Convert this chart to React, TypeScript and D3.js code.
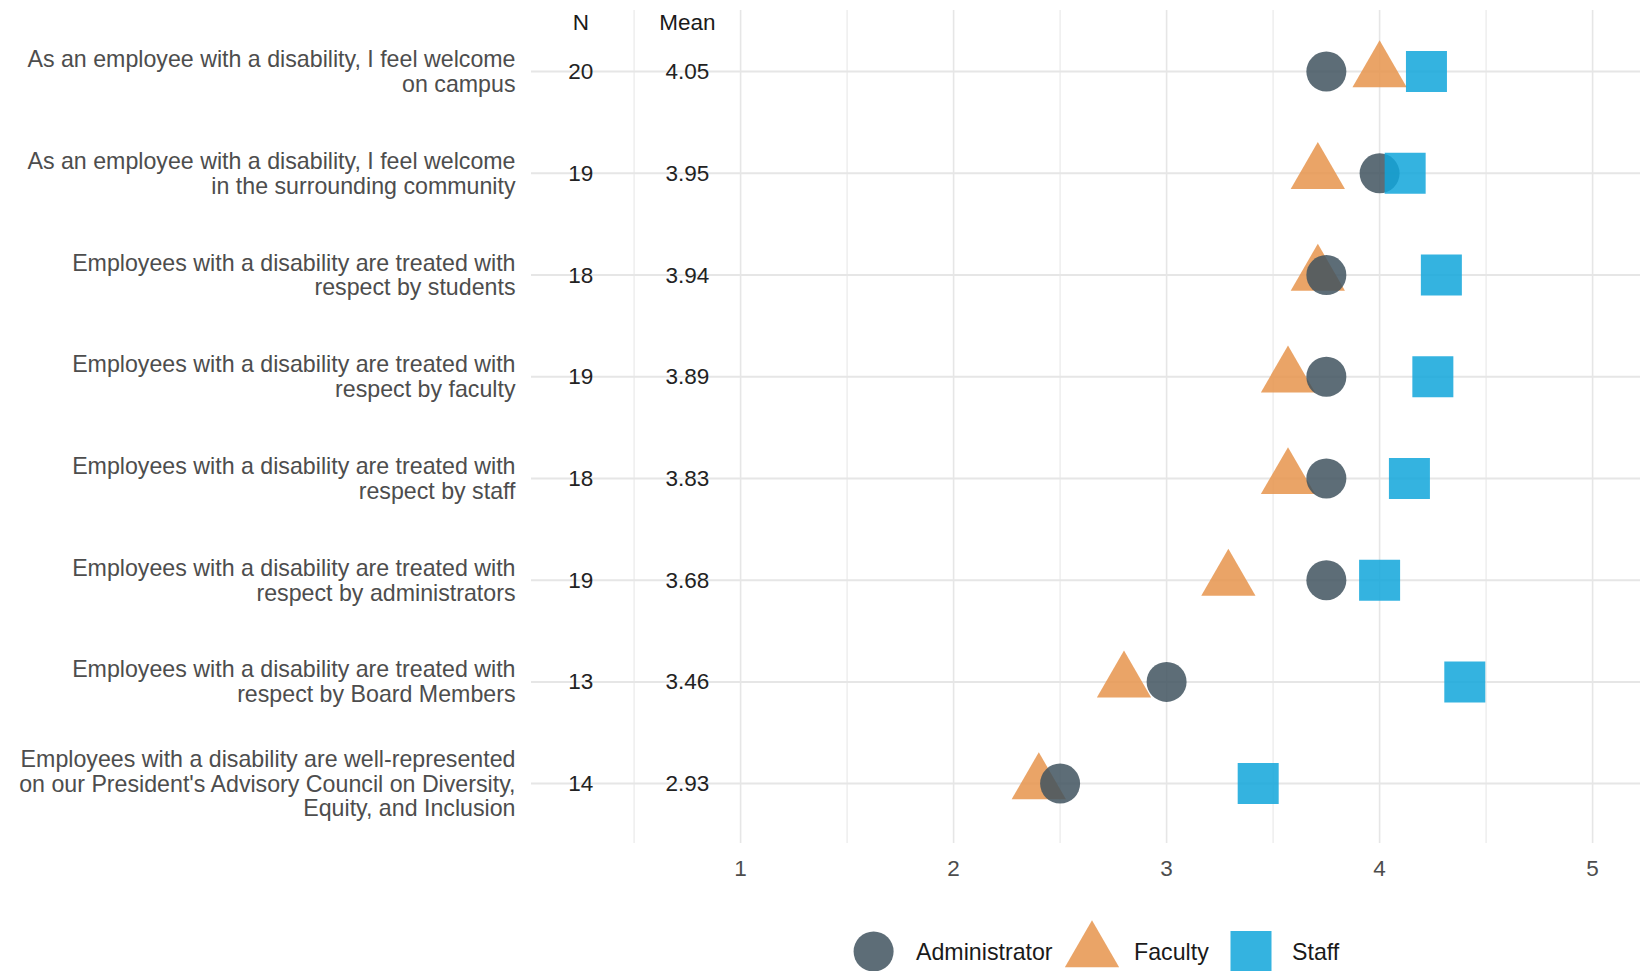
import React from "react";
import * as d3 from "d3";

const categories: string[][] = [
  ["As an employee with a disability, I feel welcome", "on campus"],
  ["As an employee with a disability, I feel welcome", "in the surrounding community"],
  ["Employees with a disability are treated with", "respect by students"],
  ["Employees with a disability are treated with", "respect by faculty"],
  ["Employees with a disability are treated with", "respect by staff"],
  ["Employees with a disability are treated with", "respect by administrators"],
  ["Employees with a disability are treated with", "respect by Board Members"],
  ["Employees with a disability are well-represented", "on our President's Advisory Council on Diversity,", "Equity, and Inclusion"],
];
const nValues = [20, 19, 18, 19, 18, 19, 13, 14];
const meanValues = ["4.05", "3.95", "3.94", "3.89", "3.83", "3.68", "3.46", "2.93"];
const adminValues = [3.75, 4.0, 3.75, 3.75, 3.75, 3.75, 3.0, 2.5];
const facultyValues = [4.0, 3.71, 3.71, 3.57, 3.57, 3.29, 2.8, 2.4];
const staffValues = [4.22, 4.12, 4.29, 4.25, 4.14, 4.0, 4.4, 3.43];
const xTicks = [1, 2, 3, 4, 5];
const minorTicks = [0.5, 1.5, 2.5, 3.5, 4.5];
const groups = ["Administrator", "Faculty", "Staff"];

const W = 1640;
const H = 971;
const FONT = "'Liberation Sans', Arial, sans-serif";

const colors: Record<string, string> = {
  Administrator: "#41545f",
  Faculty: "#e6944c",
  Staff: "#11a6da",
};
const symbolFor: Record<string, d3.SymbolType> = {
  Administrator: d3.symbolCircle,
  Faculty: d3.symbolTriangle,
  Staff: d3.symbolSquare,
};
const sizeFor: Record<string, number> = {
  Administrator: Math.PI * 20 * 20,
  Faculty: 1275,
  Staff: 41 * 41,
};
const pathFor = (g: string) => d3.symbol().type(symbolFor[g]).size(sizeFor[g])() as string;

export default function App() {
  const x = d3.scaleLinear().domain([1, 5]).range([740.6, 1592.6]);
  const y = d3.scalePoint<number>().domain(categories.map((_, i) => i)).range([71.6, 783.6]);
  const panelLeft = 531;
  const panelTop = 10;
  const panelBottom = 843;
  const lineH = 24.8;
  const labelSize = 23.2;
  const numSize = 22.5;

  const seriesOrder: [string, number[]][] = [
    ["Faculty", facultyValues],
    ["Administrator", adminValues],
    ["Staff", staffValues],
  ];

  const legendItems = [
    { g: groups[0], sx: 873.6, tx: 916 },
    { g: groups[1], sx: 1092, tx: 1134 },
    { g: groups[2], sx: 1251, tx: 1292 },
  ];

  return (
    <div style={{ position: "absolute", left: 0, top: 0, width: W, height: H, background: "#fff" }}>
      <svg width={W} height={H} style={{ display: "block", fontFamily: FONT }}>
        <rect width={W} height={H} fill="#ffffff" />
        {minorTicks.map((t) => (
          <line key={"mn" + t} x1={x(t)} x2={x(t)} y1={panelTop} y2={panelBottom} stroke="#ebebeb" strokeWidth={1.3} />
        ))}
        {xTicks.map((t) => (
          <line key={"mj" + t} x1={x(t)} x2={x(t)} y1={panelTop} y2={panelBottom} stroke="#e6e6e6" strokeWidth={1.6} />
        ))}
        {categories.map((_, i) => (
          <line key={"h" + i} x1={panelLeft} x2={W} y1={y(i)!} y2={y(i)!} stroke="#e6e6e6" strokeWidth={2} />
        ))}
        <text x={x(0.25)} y={22.5} textAnchor="middle" dominantBaseline="central" fontSize={numSize} fill="#1a1a1a">N</text>
        <text x={x(0.75)} y={22.5} textAnchor="middle" dominantBaseline="central" fontSize={numSize} fill="#1a1a1a">Mean</text>
        {nValues.map((n, i) => (
          <text key={"n" + i} x={x(0.25)} y={y(i)!} textAnchor="middle" dominantBaseline="central" fontSize={numSize} fill="#222">{n}</text>
        ))}
        {meanValues.map((m, i) => (
          <text key={"m" + i} x={x(0.75)} y={y(i)!} textAnchor="middle" dominantBaseline="central" fontSize={numSize} fill="#222">{m}</text>
        ))}
        {categories.map((lines, i) => (
          <text key={"c" + i} x={515.5} textAnchor="end" fontSize={labelSize} fill="#4d4d4d">
            {lines.map((ln, j) => (
              <tspan key={j} x={515.5} y={y(i)! + (j - (lines.length - 1) / 2) * lineH} dominantBaseline="central">{ln}</tspan>
            ))}
          </text>
        ))}
        {xTicks.map((t) => (
          <text key={"t" + t} x={x(t)} y={868} textAnchor="middle" dominantBaseline="central" fontSize={numSize} fill="#4d4d4d">{t}</text>
        ))}
        {seriesOrder.map(([g, vals]) => (
          <g key={g}>
            {vals.map((v, i) => (
              <path key={i} d={pathFor(g)} transform={`translate(${x(v)},${y(i)})`} fill={colors[g]} fillOpacity={0.85} />
            ))}
          </g>
        ))}
        {legendItems.map((it) => (
          <g key={it.g}>
            <path d={pathFor(it.g)} transform={`translate(${it.sx},951.5)`} fill={colors[it.g]} fillOpacity={0.85} />
            <text x={it.tx} y={951.5} dominantBaseline="central" fontSize={labelSize} fill="#1a1a1a">{it.g}</text>
          </g>
        ))}
      </svg>
    </div>
  );
}
